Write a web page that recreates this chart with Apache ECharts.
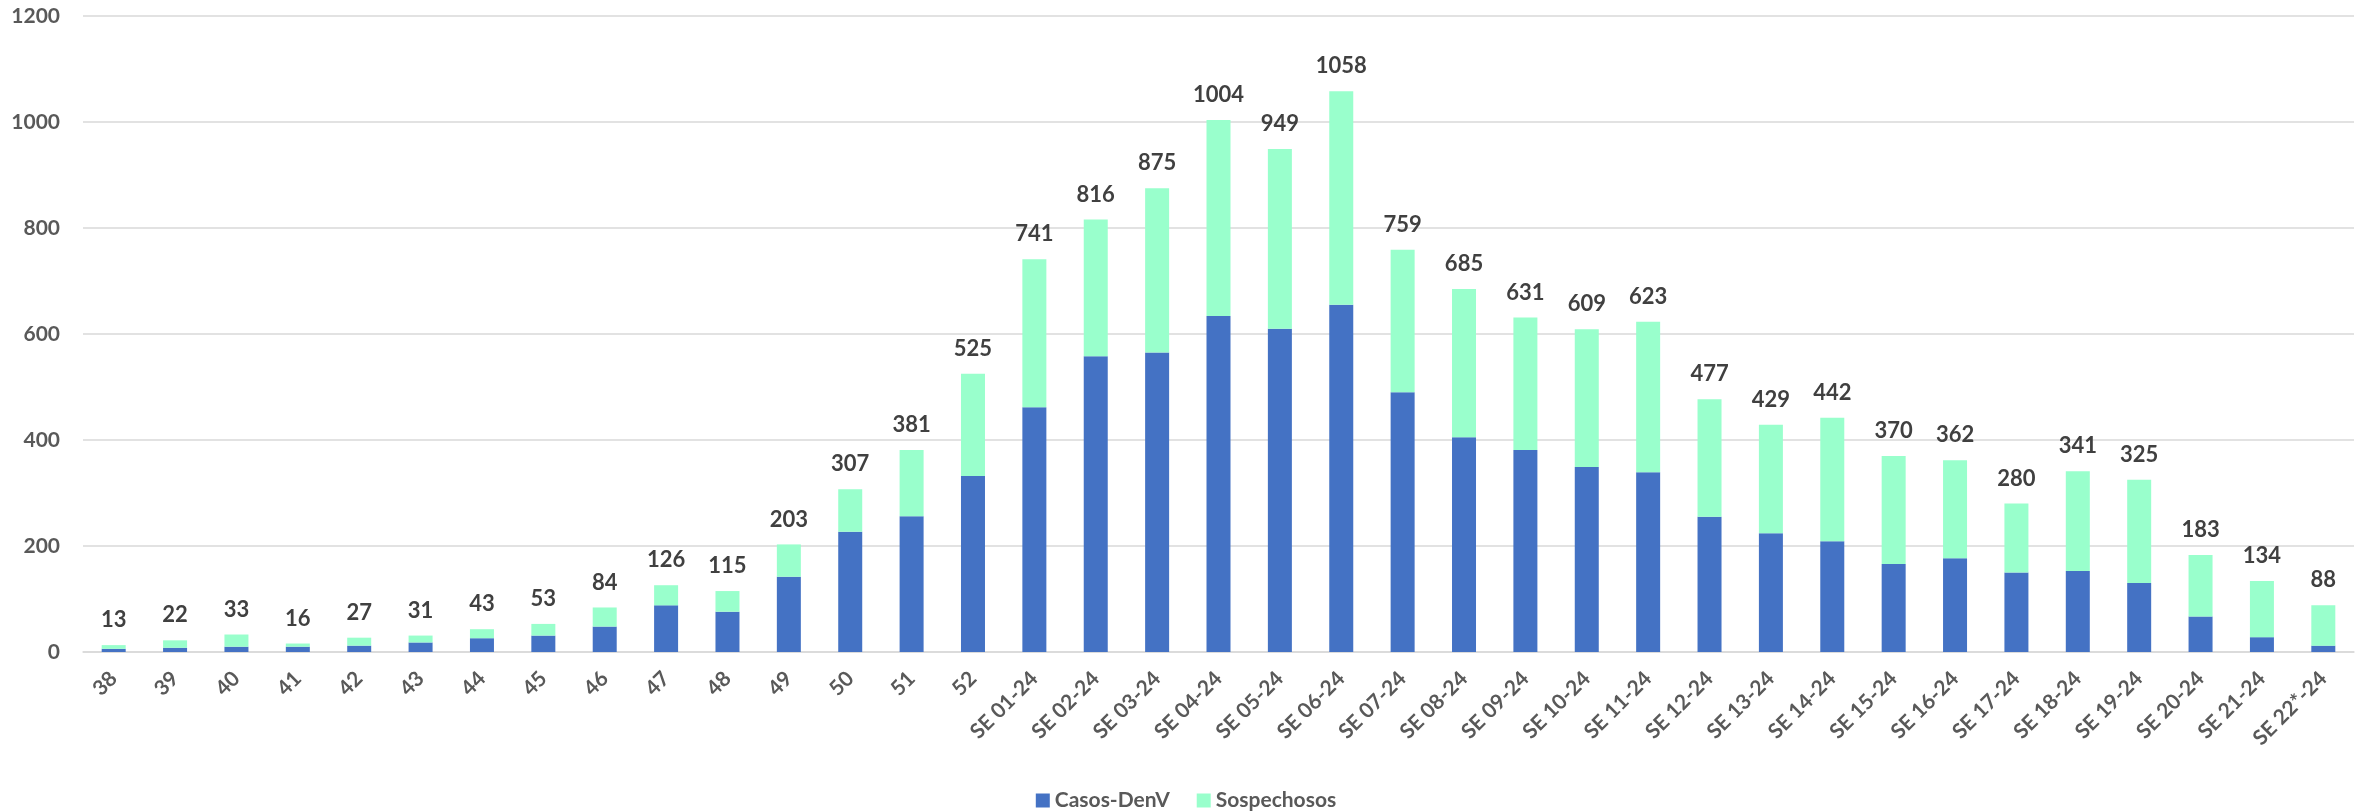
<!DOCTYPE html>
<html>
<head>
<meta charset="utf-8">
<script src="https://cdn.jsdelivr.net/npm/echarts@6/dist/echarts.min.js"></script>
<style>
  html, body { margin: 0; padding: 0; background: #fff; }
  #chart { width: 2372px; height: 811px; }
</style>
</head>
<body>
<div id="chart"></div>
<script>
// semanas epidemiologicas
const semanas = ['38', '39', '40', '41', '42', '43', '44', '45', '46', '47', '48', '49', '50', '51', '52',
  'SE 01-24', 'SE 02-24', 'SE 03-24', 'SE 04-24', 'SE 05-24', 'SE 06-24', 'SE 07-24', 'SE 08-24',
  'SE 09-24', 'SE 10-24', 'SE 11-24', 'SE 12-24', 'SE 13-24', 'SE 14-24', 'SE 15-24', 'SE 16-24',
  'SE 17-24', 'SE 18-24', 'SE 19-24', 'SE 20-24', 'SE 21-24', 'SE 22*-24'];

const casosDenV = [6, 8, 10, 10, 12, 18, 26, 31, 48, 88, 76, 142, 227, 256, 332,
  462, 558, 565, 634, 610, 655, 490, 405, 381, 349, 339, 255, 224, 209, 166, 177,
  150, 153, 130, 67, 28, 12];

const sospechosos = [7, 14, 23, 6, 15, 13, 17, 22, 36, 38, 39, 61, 80, 125, 193,
  279, 258, 310, 370, 339, 403, 269, 280, 250, 260, 284, 222, 205, 233, 204, 185,
  130, 188, 195, 116, 106, 76];

const yTicks = [0, 200, 400, 600, 800, 1000, 1200];

const fontFam = 'Lato, "Open Sans", sans-serif';
const myChart = echarts.init(document.getElementById('chart'));

const option = {
  animation: false,
  color: ['#4472C4', '#99FFCC'],
  grid: {
    left: 83,
    right: 18,
    top: 16,
    bottom: 159,
    outerBoundsMode: 'none'
  },
  legend: {
    data: ['Casos-DenV', 'Sospechosos'],
    left: 'center',
    top: 785,
    itemWidth: 14,
    itemHeight: 14,
    itemGap: 27,
    icon: 'rect',
    textStyle: {
      fontFamily: fontFam,
      fontWeight: 'bold',
      fontSize: 21,
      color: '#595959'
    }
  },
  xAxis: {
    type: 'category',
    data: semanas,
    axisTick: { show: false },
    axisLine: { lineStyle: { color: '#d9d9d9', width: 1.5 } },
    axisLabel: {
      interval: 0,
      rotate: 45,
      margin: 23,
      fontFamily: fontFam,
      fontWeight: 'bold',
      fontSize: 21,
      color: '#595959'
    }
  },
  yAxis: {
    type: 'value',
    min: yTicks[0],
    max: yTicks[yTicks.length - 1],
    interval: 200,
    axisLine: { show: false },
    axisTick: { show: false },
    splitLine: { lineStyle: { color: '#d9d9d9', width: 1.5 } },
    axisLabel: {
      margin: 23,
      fontFamily: fontFam,
      fontWeight: 'bold',
      fontSize: 21,
      color: '#595959',
      formatter: (v) => String(v)
    }
  },
  series: [
    {
      name: 'Casos-DenV',
      type: 'bar',
      stack: 'total',
      barWidth: 24,
      data: casosDenV
    },
    {
      name: 'Sospechosos',
      type: 'bar',
      stack: 'total',
      barWidth: 24,
      data: sospechosos,
      label: {
        show: true,
        position: 'top',
        distance: 14,
        fontFamily: fontFam,
        fontWeight: 'bold',
        fontSize: 22,
        color: '#404040',
        formatter: (p) => casosDenV[p.dataIndex] + sospechosos[p.dataIndex]
      }
    }
  ]
};

myChart.setOption(option);
</script>
</body>
</html>
